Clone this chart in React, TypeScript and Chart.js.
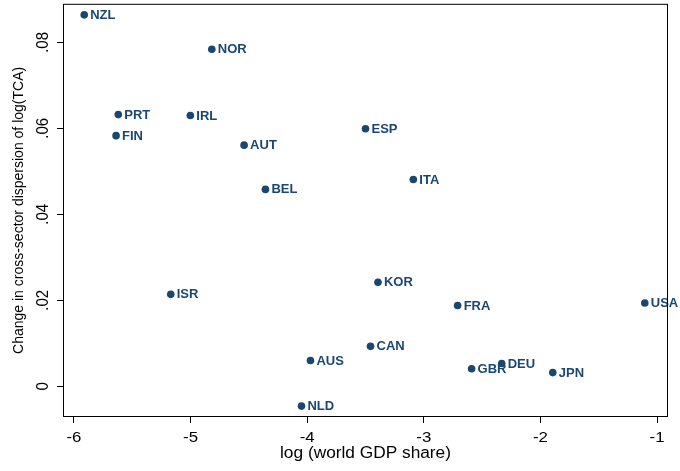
import { useEffect, useRef } from "react";
import { Chart, registerables } from "chart.js";

Chart.register(...registerables);

// Country codes and their coordinates
const countries = [
  "NZL", "NOR", "PRT", "IRL", "FIN", "AUT", "ESP", "BEL", "ITA", "KOR",
  "ISR", "FRA", "USA", "CAN", "AUS", "DEU", "GBR", "JPN", "NLD",
];
const logGdpShare = [
  -5.912, -4.818, -5.62, -5.002, -5.639, -4.541, -3.5, -4.358, -3.09, -3.393,
  -5.17, -2.71, -1.105, -3.457, -3.972, -2.332, -2.59, -1.894, -4.049,
];
const dispersionChange = [
  0.0864, 0.0784, 0.0632, 0.063, 0.0583, 0.0561, 0.0599, 0.0458, 0.0481, 0.0242,
  0.0214, 0.0188, 0.0194, 0.0093, 0.006, 0.0053, 0.0041, 0.0032, -0.0046,
];

const xTickValues = [-6, -5, -4, -3, -2, -1];
const xTickLabels = ["-6", "-5", "-4", "-3", "-2", "-1"];
const yTickValues = [0, 0.02, 0.04, 0.06, 0.08];
const yTickLabels = ["0", ".02", ".04", ".06", ".08"];

const xTitle = "log (world GDP share)";
const yTitle = "Change in cross-sector dispersion of log(TCA)";

const NAVY = "#1a476f";
const FONT = "'Liberation Sans', Arial, sans-serif";

// Marker labels, tick labels, axis titles and the plot-region outline
const decorations = {
  id: "plotDecorations",
  afterDatasetsDraw(chart: any) {
    const ctx = chart.ctx as CanvasRenderingContext2D;
    const meta = chart.getDatasetMeta(0);
    const area = chart.chartArea;
    const xs = chart.scales.x;
    const ys = chart.scales.y;

    ctx.save();
    // country labels to the right of each marker
    ctx.font = `bold 13px ${FONT}`;
    ctx.fillStyle = NAVY;
    ctx.textAlign = "left";
    ctx.textBaseline = "middle";
    meta.data.forEach((pt: any, i: number) => {
      ctx.fillText(countries[i], pt.x + 6, pt.y + 0.5);
    });

    // outline
    ctx.strokeStyle = "#000";
    ctx.lineWidth = 1;
    ctx.strokeRect(area.left + 0.5, area.top + 0.5, area.right - area.left - 1, area.bottom - area.top - 1);

    // x tick labels
    ctx.fillStyle = "#000";
    ctx.font = `15px ${FONT}`;
    ctx.textAlign = "center";
    ctx.textBaseline = "alphabetic";
    xTickValues.forEach((v, i) => {
      ctx.save();
      ctx.translate(xs.getPixelForValue(v), area.bottom + 25);
      ctx.scale(1.12, 1);
      ctx.fillText(xTickLabels[i], 0, 0);
      ctx.restore();
    });

    // y tick labels, rotated
    yTickValues.forEach((v, i) => {
      ctx.save();
      ctx.translate(area.left - 15, ys.getPixelForValue(v));
      ctx.rotate(-Math.PI / 2);
      ctx.scale(1, 1.08);
      ctx.fillText(yTickLabels[i], 0, 0);
      ctx.restore();
    });

    // x title
    ctx.save();
    ctx.translate((area.left + area.right) / 2, area.bottom + 41);
    ctx.font = `16px ${FONT}`;
    ctx.scale(1.08, 1);
    ctx.fillText(xTitle, 0, 0);
    ctx.restore();

    // y title
    ctx.font = `14px ${FONT}`;
    ctx.save();
    ctx.translate(23, (area.top + area.bottom) / 2);
    ctx.rotate(-Math.PI / 2);
    ctx.fillText(yTitle, 0, 0);
    ctx.restore();

    ctx.restore();
  },
};

export default function App() {
  const canvasRef = useRef<HTMLCanvasElement | null>(null);

  useEffect(() => {
    if (!canvasRef.current) return;
    const chart = new Chart(canvasRef.current, {
      type: "scatter",
      data: {
        datasets: [
          {
            data: logGdpShare.map((x, i) => ({ x, y: dispersionChange[i] })),
            pointRadius: 3.8,
            pointHoverRadius: 3.8,
            pointBackgroundColor: NAVY,
            pointBorderColor: NAVY,
            pointBorderWidth: 0,
            showLine: false,
          },
        ],
      },
      options: {
        responsive: false,
        animation: false,
        events: [],
        layout: { padding: { top: 3, right: 12, left: 0, bottom: 0 } },
        plugins: {
          legend: { display: false },
          tooltip: { enabled: false },
        },
        scales: {
          x: {
            type: "linear",
            min: -6.094,
            max: -0.906,
            afterBuildTicks: (s: any) => {
              s.ticks = xTickValues.map((value) => ({ value }));
            },
            afterFit: (s: any) => {
              s.height = 54;
            },
            ticks: { display: false },
            border: { display: false },
            grid: {
              drawOnChartArea: false,
              drawTicks: true,
              tickLength: 6,
              color: "#000",
              lineWidth: 1,
            },
          },
          y: {
            type: "linear",
            min: -0.00713,
            max: 0.08897,
            afterBuildTicks: (s: any) => {
              s.ticks = yTickValues.map((value) => ({ value }));
            },
            afterFit: (s: any) => {
              s.width = 63;
            },
            ticks: { display: false },
            border: { display: false },
            grid: {
              drawOnChartArea: false,
              drawTicks: true,
              tickLength: 6,
              color: "#000",
              lineWidth: 1,
            },
          },
        },
      },
      plugins: [decorations],
    });
    return () => chart.destroy();
  }, []);

  return (
    <div style={{ position: "absolute", left: 0, top: 0, width: 680, height: 471, background: "#fff" }}>
      <canvas ref={canvasRef} width={680} height={471} style={{ display: "block" }} />
    </div>
  );
}
